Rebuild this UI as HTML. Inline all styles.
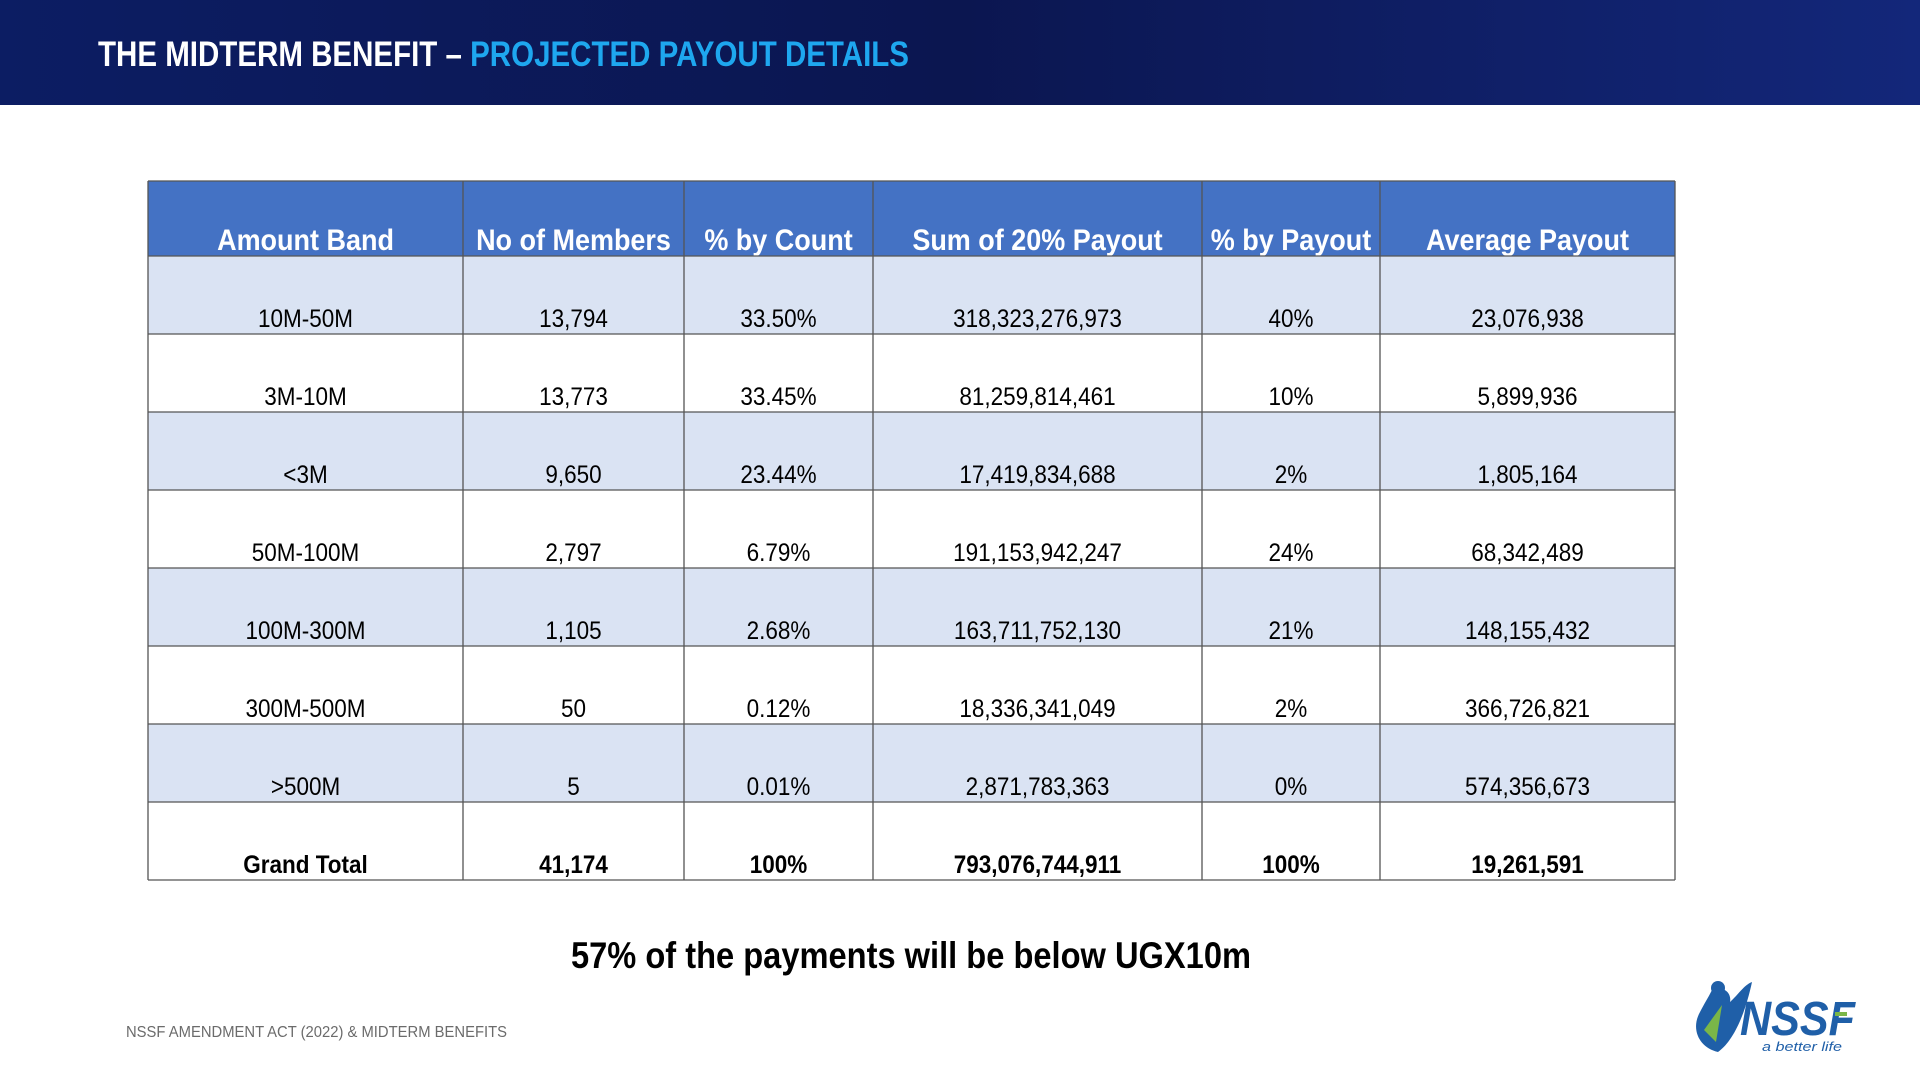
<!DOCTYPE html>
<html><head><meta charset="utf-8"><style>
html,body{margin:0;padding:0;width:1920px;height:1080px;overflow:hidden;background:#fff}
svg{display:block;font-family:"Liberation Sans",Arial,sans-serif}
</style></head><body>
<svg id="s" width="1920" height="1080" viewBox="0 0 1920 1080">
<defs>
<linearGradient id="hg" x1="0" y1="0" x2="1" y2="0">
<stop offset="0" stop-color="#0c1d63"/><stop offset="0.5" stop-color="#0b1650"/><stop offset="1" stop-color="#13277a"/>
</linearGradient>
</defs>
<rect x="0" y="0" width="1920" height="105" fill="url(#hg)"/>
<text x="98" y="66" font-size="35" font-weight="bold" fill="#fff" textLength="811" lengthAdjust="spacingAndGlyphs">THE MIDTERM BENEFIT – <tspan fill="#1ea7ef">PROJECTED PAYOUT DETAILS</tspan></text>
<g id="tbl"></g>
<text x="571" y="968" font-size="37" font-weight="bold" fill="#000" textLength="680" lengthAdjust="spacingAndGlyphs">57% of the payments will be below UGX10m</text>
<text x="126" y="1037" font-size="16" fill="#6b6b6b" textLength="381" lengthAdjust="spacingAndGlyphs">NSSF AMENDMENT ACT (2022) &amp; MIDTERM BENEFITS</text>
<g>
<path d="M1712,990 C1722,985 1732,992 1730,1002 C1738,995 1744,985 1752,982 C1746,1010 1735,1040 1718,1052 C1700,1048 1690,1030 1700,1012 C1704,1004 1708,998 1712,990 Z" fill="#1f5fa8"/>
<path d="M1704,1030 L1722,1005 L1716,1042 Z" fill="#7ab648"/>
<circle cx="1718" cy="988" r="7" fill="#1f5fa8"/>
<text x="1740" y="1035" font-size="48" font-weight="bold" font-style="italic" fill="#1f5fa8" textLength="115" lengthAdjust="spacingAndGlyphs">NSSF</text>
<rect x="1835" y="1012" width="12" height="4" fill="#7ab648"/>
<text x="1762" y="1051" font-size="13" font-style="italic" fill="#1f5fa8" textLength="80" lengthAdjust="spacingAndGlyphs">a better life</text>
</g>
</svg>
<script>
const headers = ["Amount Band","No of Members","% by Count","Sum of 20% Payout","% by Payout","Average Payout"];
const bands = ["10M-50M","3M-10M","<3M","50M-100M","100M-300M","300M-500M",">500M","Grand Total"];
const members = ["13,794","13,773","9,650","2,797","1,105","50","5","41,174"];
const pctCount = ["33.50%","33.45%","23.44%","6.79%","2.68%","0.12%","0.01%","100%"];
const sumPayout = ["318,323,276,973","81,259,814,461","17,419,834,688","191,153,942,247","163,711,752,130","18,336,341,049","2,871,783,363","793,076,744,911"];
const pctPayout = ["40%","10%","2%","24%","21%","2%","0%","100%"];
const avgPayout = ["23,076,938","5,899,936","1,805,164","68,342,489","148,155,432","366,726,821","574,356,673","19,261,591"];
const NS="http://www.w3.org/2000/svg";
const g=document.getElementById('tbl');
const cols=[148,463,684,873,1202,1380,1675];
const tableTop=181, hh=75, rh=78;
function mk(t,a){const e=document.createElementNS(NS,t);for(const k in a)e.setAttribute(k,a[k]);g.appendChild(e);return e;}
const hdr=mk('rect',{x:cols[0],y:tableTop,width:cols[6]-cols[0],height:hh,fill:'#4472c4'});


headers.forEach((h,i)=>{
  const cx=(cols[i]+cols[i+1])/2;
  const t=mk('text',{transform:`translate(${cx},${tableTop+69}) scale(0.9,1)`,'text-anchor':'middle','font-size':30,'font-weight':'bold',fill:'#fff'});
  t.textContent=h;
  
  
});
const colsData=[bands,members,pctCount,sumPayout,pctPayout,avgPayout];
bands.forEach((b,r)=>{
  const y=tableTop+hh+r*rh;
  const row=mk('rect',{x:cols[0],y:y,width:cols[6]-cols[0],height:rh,fill:(r%2==0&&r<7)?'#dae3f3':'#ffffff'});
  
  
  colsData.forEach((arr,i)=>{
    const cx=(cols[i]+cols[i+1])/2;
    const t=mk('text',{transform:`translate(${cx},${y+rh-7}) scale(0.9,1)`,'text-anchor':'middle','font-size':25,'font-weight':r==7?'bold':'normal',fill:'#000'});
    t.textContent=arr[r];
    
    
  });
});
const bottom=tableTop+hh+bands.length*rh;
for(let r=0;r<=bands.length;r++){mk('line',{x1:cols[0],x2:cols[6],y1:tableTop+hh+r*rh,y2:tableTop+hh+r*rh,stroke:'#555','stroke-width':1.3});}
mk('line',{x1:cols[0],x2:cols[6],y1:tableTop,y2:tableTop,stroke:'#555','stroke-width':1.3});
cols.forEach(x=>mk('line',{x1:x,x2:x,y1:tableTop,y2:bottom,stroke:'#555','stroke-width':1.3}));
</script>
</body></html>
